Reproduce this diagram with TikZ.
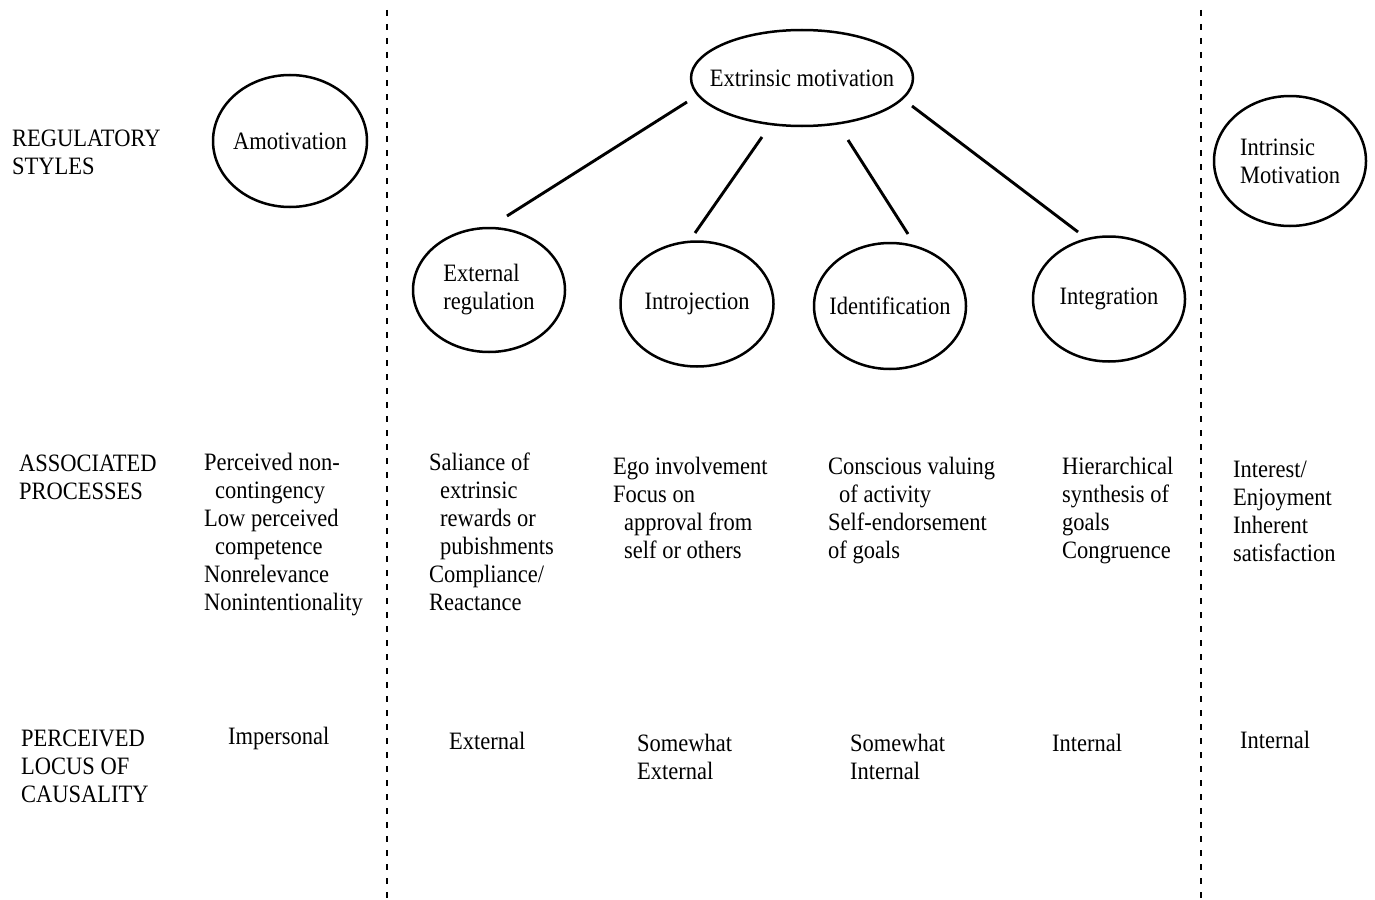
\documentclass[tikz,border=0pt]{standalone}
\usepackage{fontspec}
\setmainfont{Liberation Serif}[FakeStretch=0.9]
\usetikzlibrary{shapes.geometric}
\newcommand{\fs}{\fontsize{25}{28}\selectfont}
\newcommand{\ind}{\hspace*{11pt}}
\newcommand{\st}{\rule{0pt}{20pt}}
\begin{document}
\begin{tikzpicture}[x=1pt,y=-1pt,
  ell/.style={draw, ellipse, line width=2.5pt, inner xsep=-15pt, inner ysep=0pt, font=\fs, align=left},
  conn/.style={line width=2.9pt},
  divider/.style={line width=2.4pt, dash pattern=on 6pt off 8pt},
  txt/.style={anchor=north west, inner sep=0pt, align=left, font=\fs}]
\useasboundingbox (0,0) rectangle (1375,899);
\fill[white] (0,0) rectangle (1375,899);

% dividers
\coordinate (d1a) at (387,10); \coordinate (d1b) at (387,899);
\coordinate (d2a) at (1201,10); \coordinate (d2b) at (1201,899);
\draw[divider] (d1a) -- (d1b);
\draw[divider] (d2a) -- (d2b);

% ellipses
\node[ell, minimum width=154pt, minimum height=132pt] (amot) at (290,141) {Amotivation};
\node[ell, minimum width=222pt, minimum height=96pt] (extr) at (802,78) {Extrinsic motivation};
\node[ell, minimum width=152pt, minimum height=124pt] (extreg) at (489,290) {External\\regulation};
\node[ell, minimum width=153pt, minimum height=125pt] (introj) at (697,304) {Introjection};
\node[ell, minimum width=152pt, minimum height=126pt] (ident) at (890,306) {Identification};
\node[ell, minimum width=152pt, minimum height=125pt] (integ) at (1109,299) {Integration};
\node[ell, minimum width=152pt, minimum height=130pt] (intrin) at (1290,161) {Intrinsic\\Motivation};

% connectors
\coordinate (c1a) at (687,102); \coordinate (c1b) at (507,216);
\coordinate (c2a) at (762,137); \coordinate (c2b) at (695,233);
\coordinate (c3a) at (848,140); \coordinate (c3b) at (908,234);
\coordinate (c4a) at (912,106); \coordinate (c4b) at (1078,232);
\draw[conn] (c1a) -- (c1b);
\draw[conn] (c2a) -- (c2b);
\draw[conn] (c3a) -- (c3b);
\draw[conn] (c4a) -- (c4b);

% row labels
\node[txt] (lab1) at (12,126) {\st REGULATORY\\STYLES};
\node[txt] (lab2) at (19,451) {\st ASSOCIATED\\PROCESSES};
\node[txt] (lab3) at (21,726) {\st PERCEIVED\\LOCUS OF\\CAUSALITY};

% associated processes
\node[txt] (p1) at (204,450) {\st Perceived non-\\\ind contingency\\Low perceived\\\ind competence\\Nonrelevance\\Nonintentionality};
\node[txt] (p2) at (429,450) {\st Saliance of\\\ind extrinsic\\\ind rewards or\\\ind pubishments\\Compliance/\\Reactance};
\node[txt] (p3) at (613,454) {\st Ego involvement\\Focus on\\\ind approval from\\\ind self or others};
\node[txt] (p4) at (828,454) {\st Conscious valuing\\\ind of activity\\Self-endorsement\\of goals};
\node[txt] (p5) at (1062,454) {\st Hierarchical\\synthesis of\\goals\\Congruence};
\node[txt] (p6) at (1233,457) {\st Interest/\\Enjoyment\\Inherent\\satisfaction};

% locus of causality
\node[txt] (l1) at (228,724) {\st Impersonal};
\node[txt] (l2) at (449,729) {\st External};
\node[txt] (l3) at (637,731) {\st Somewhat\\External};
\node[txt] (l4) at (850,731) {\st Somewhat\\Internal};
\node[txt] (l5) at (1052,731) {\st Internal};
\node[txt] (l6) at (1240,728) {\st Internal};
\end{tikzpicture}
\end{document}
